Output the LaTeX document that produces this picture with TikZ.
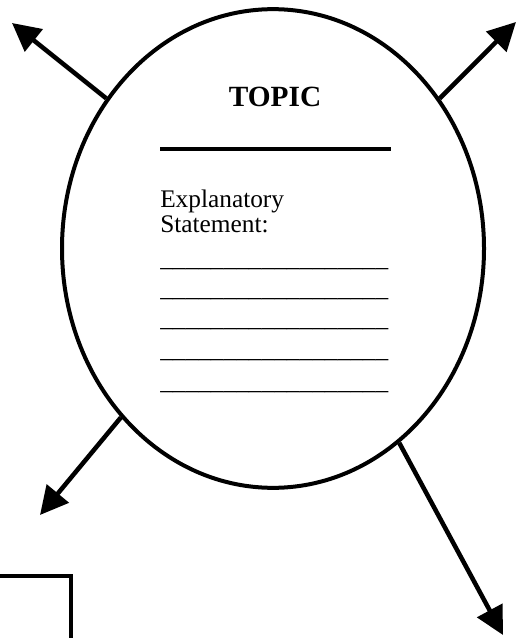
\documentclass[tikz,border=0pt]{standalone}
\usepackage{fontspec}
\setmainfont{Liberation Serif}
\usetikzlibrary{arrows.meta,shapes.geometric}
\begin{document}
\begin{tikzpicture}[x=0.75pt,y=-0.75pt,
	thickline/.style={line width=3pt},
	arr/.style={line width=3.4pt,-{Triangle[length=21pt,width=21pt]}},
	txt/.style={anchor=base west,inner sep=0pt,font=\fontsize{19}{19}\selectfont}]
	\useasboundingbox (0,0) rectangle (518,638);
	\node[draw,ellipse,thickline,inner sep=0pt,minimum width=316.5pt,minimum height=359pt] (topic) at (273,248.5) {};
	\path (12,23) coordinate (tl)
	(516,22) coordinate (tr)
	(40,515) coordinate (bl)
	(503,635) coordinate (br);
	\draw[arr] (topic.138) -- (tl);
	\draw[arr] (topic.42.6) -- (tr);
	\draw[arr] (topic.228) -- (bl);
	\draw[arr] (topic.303) -- (br);
	% text inside the oval
	\node[anchor=base,inner sep=0pt,font=\bfseries\fontsize{22}{22}\selectfont] (title) at (275,107) {TOPIC};
	\draw[thickline] (160,149) -- (391,149);
	\node[txt] (expl) at (160,207) {Explanatory};
	\node[txt] (stmt) at (160,232) {Statement:};
	\foreach \y [count=\i] in {266.5,296.5,326.5,357.5,389.5}
		\node[txt] (blank\i) at (160,\y) {\_\_\_\_\_\_\_\_\_\_\_\_\_\_\_\_\_\_};
	% box in the corner
	\draw[line width=3.6pt] (-20,576) -| (71,660);
\end{tikzpicture}
\end{document}
